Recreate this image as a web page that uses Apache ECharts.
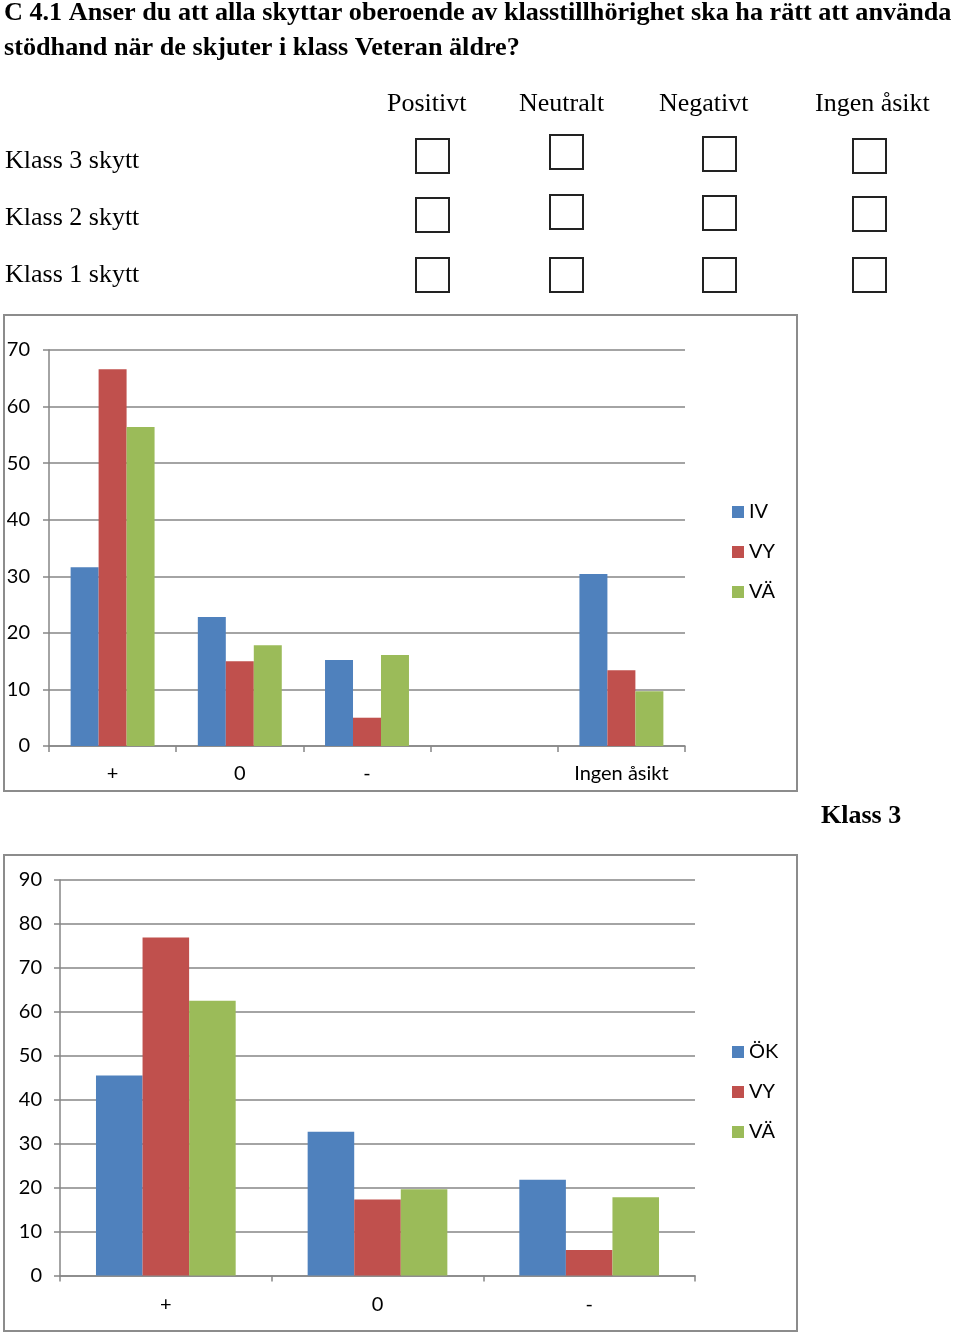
<!DOCTYPE html>
<html>
<head>
<meta charset="utf-8">
<script src="https://cdn.jsdelivr.net/npm/echarts@6/dist/echarts.min.js"></script>
<style>
html,body{margin:0;padding:0;background:#fff;}
#c{width:960px;height:1336px;}
</style>
</head>
<body>
<div id="c"></div>
<script>
// ---- Data ----
const titleLines = ['C 4.1 Anser du att alla skyttar oberoende av klasstillhörighet ska ha rätt att använda',
                    'stödhand när de skjuter i klass Veteran äldre?'];
const formColumns = ['Positivt', 'Neutralt', 'Negativt', 'Ingen åsikt'];
const formRows = ['Klass 3 skytt', 'Klass 2 skytt', 'Klass 1 skytt'];

const cats1 = ['+', '0', '-', '', 'Ingen åsikt'];
const names1 = ['IV', 'VY', 'VÄ'];
const iv1 = [31.6, 22.8, 15.2, 0, 30.4];
const vy1 = [66.6, 15.0, 5.0, 0, 13.4];
const va1 = [56.4, 17.8, 16.1, 0, 9.7];
const yMax1 = 70;

const cats2 = ['+', '0', '-'];
const names2 = ['ÖK', 'VY', 'VÄ'];
const ok2 = [45.5, 32.7, 21.8];
const vy2 = [76.9, 17.3, 5.8];
const va2 = [62.5, 19.6, 17.8];
const yMax2 = 90;

const chart2Title = 'Klass 3';

const colors = ['#4F81BD', '#C0504D', '#9BBB59'];

// ---- Layout ----
const serif = '"Liberation Serif", "Times New Roman", serif';
const sans = 'Lato, Carlito, Calibri, sans-serif';
const gridColor = '#868686';
const axisFont = 20;

const graphics = [];
titleLines.forEach((t, i) => {
  graphics.push({type:'text', left:4, top: 0 + i*35,
    style:{text:t, font:'bold 26.2px ' + serif, fill:'#000'}});
});
const colX = [387, 519, 659, 815];
formColumns.forEach((t, i) => {
  graphics.push({type:'text', left: colX[i], top: 91,
    style:{text:t, font:'26px ' + serif, fill:'#000'}});
});
const rowY = [148, 205, 262];
formRows.forEach((t, i) => {
  graphics.push({type:'text', left: 5, top: rowY[i],
    style:{text:t, font:'26px ' + serif, fill:'#000'}});
});
// checkboxes
const boxX = [416, 550, 703, 853];
const boxY = [[139,135,137,139],[198,195,196,197],[258,258,258,258]];
for (let r = 0; r < 3; r++) {
  for (let c = 0; c < 4; c++) {
    graphics.push({type:'rect', shape:{x: boxX[c], y: boxY[r][c], width: 33, height: 34},
      style:{fill:'none', stroke:'#222', lineWidth:2}});
  }
}
// chart borders
graphics.push({type:'rect', shape:{x:4, y:315, width:793, height:476},
  style:{fill:'none', stroke:'#8c8c8c', lineWidth:2}, z:-1});
graphics.push({type:'rect', shape:{x:4, y:855, width:793, height:476},
  style:{fill:'none', stroke:'#8c8c8c', lineWidth:2}, z:-1});
graphics.push({type:'text', left: 821, top: 803,
  style:{text: chart2Title, font:'bold 26px ' + serif, fill:'#000'}});

function yAxisCfg(gi, max, margin) {
  return {
    type:'value', gridIndex: gi, min:0, max:max, interval:10,
    axisLine:{show:true, lineStyle:{color:gridColor, width:1.5}},
    axisTick:{show:true, length:6, lineStyle:{color:gridColor, width:1.5}},
    splitLine:{show:true, lineStyle:{color:gridColor, width:1.5}},
    axisLabel:{color:'#000', fontFamily:sans, fontSize:axisFont, margin: margin}
  };
}
function xAxisCfg(gi, cats, margin) {
  return {
    type:'category', gridIndex: gi, data: cats,
    axisLine:{show:true, lineStyle:{color:gridColor, width:1.5}},
    axisTick:{show:true, length:6, alignWithLabel:false, lineStyle:{color:gridColor, width:1.5}},
    axisLabel:{color:'#000', fontFamily:sans, fontSize:axisFont, margin: margin, interval:0}
  };
}
function bar(name, data, xi, ci) {
  return {type:'bar', name:name, data:data, xAxisIndex:xi, yAxisIndex:xi,
    itemStyle:{color: colors[ci]}, barGap:'0%', barCategoryGap:'34%', silent:true};
}
function legendCfg(names, top, fmt) {
  return {data: names, orient:'vertical', left:727, top: top,
    itemWidth:12, itemHeight:12, itemGap:20, icon:'rect', selectedMode:false,
    textStyle:{fontFamily:sans, fontSize:axisFont, color:'#000', lineHeight:20},
    formatter: fmt};
}

const option = {
  animation:false,
  backgroundColor:'#fff',
  grid:[
    {left:49, top:350, width:636, height:396},
    {left:60, top:880, width:635, height:395.5}
  ],
  xAxis:[xAxisCfg(0, cats1, 18), xAxisCfg(1, cats2, 19)],
  yAxis:[yAxisCfg(0, yMax1, 19), yAxisCfg(1, yMax2, 18)],
  legend:[
    legendCfg(names1, 497, n => n),
    legendCfg([names2[0], names2[1] + ' ', names2[2] + ' '], 1037, n => n.trim())
  ],
  series:[
    bar(names1[0], iv1, 0, 0), bar(names1[1], vy1, 0, 1), bar(names1[2], va1, 0, 2),
    bar(names2[0], ok2, 1, 0), bar(names2[1] + ' ', vy2, 1, 1), bar(names2[2] + ' ', va2, 1, 2)
  ],
  graphic: graphics
};

const chart = echarts.init(document.getElementById('c'), null, {renderer:'canvas'});
chart.setOption(option);
</script>
</body>
</html>
